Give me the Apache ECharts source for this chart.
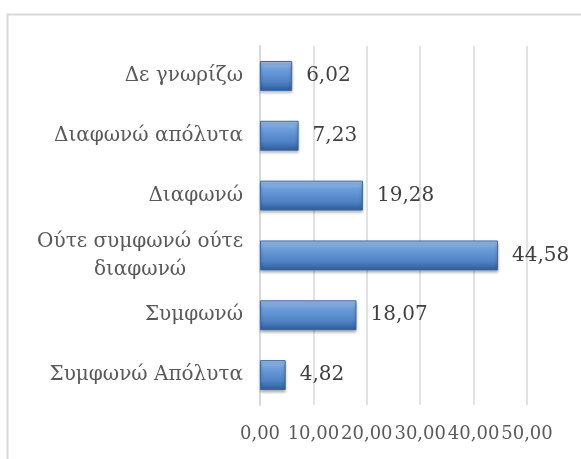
<!DOCTYPE html>
<html>
<head>
<meta charset="utf-8">
<script src="https://cdn.jsdelivr.net/npm/echarts@6/dist/echarts.min.js"></script>
<style>
  html, body { margin: 0; padding: 0; background: #fff; }
  #chart { width: 581px; height: 459px; }
</style>
</head>
<body>
<div id="chart"></div>
<script>
// categories listed bottom to top (category axis on y starts at the bottom)
const categories = [
  "Συμφωνώ Απόλυτα",
  "Συμφωνώ",
  "Ούτε συμφωνώ ούτε\nδιαφωνώ",
  "Διαφωνώ",
  "Διαφωνώ απόλυτα",
  "Δε γνωρίζω",
];
const values = [4.82, 18.07, 44.58, 19.28, 7.23, 6.02];
const xTicks = [0, 10, 20, 30, 40, 50];

const fmt = (v) => Number(v).toFixed(2).replace(".", ",");
const FONT = "DejaVu Serif";

const chart = echarts.init(document.getElementById("chart"));
chart.setOption({
  animation: false,
  graphic: [
    {
      type: "rect",
      shape: { x: 7.5, y: 14.5, width: 620, height: 500 },
      style: { fill: null, stroke: "#d9d9d9", lineWidth: 2 },
      silent: true,
    },
  ],
  grid: { left: 260, right: 54, top: 46, bottom: 54 },
  xAxis: {
    type: "value",
    min: xTicks[0],
    max: xTicks[xTicks.length - 1],
    interval: 10,
    axisLine: { show: false },
    axisTick: { show: false },
    splitLine: { show: true, lineStyle: { color: "#d9d9d9", width: 1.5 } },
    axisLabel: {
      hideOverlap: false,
      showMinLabel: true,
      showMaxLabel: true,
      margin: 20,
      color: "#595959",
      fontFamily: FONT,
      fontSize: 18,
      formatter: fmt,
    },
  },
  yAxis: {
    type: "category",
    data: categories,
    axisLine: { show: true, lineStyle: { color: "#d9d9d9", width: 2 } },
    axisTick: { show: false },
    axisLabel: {
      margin: 17,
      color: "#595959",
      fontFamily: FONT,
      fontSize: 20,
      lineHeight: 28,
      formatter: (v) => v.split("\n").map((s) => "{a|" + s + "}").join("\n"),
      rich: {
        a: { align: "center", fontFamily: FONT, fontSize: 20, lineHeight: 28, color: "#595959" },
      },
    },
  },
  series: [
    {
      type: "bar",
      data: values,
      barCategoryGap: "50%",
      itemStyle: {
        color: new echarts.graphic.LinearGradient(0, 0, 0, 1, [
          { offset: 0, color: "#a9c6ec" },
          { offset: 0.25, color: "#6f9fdc" },
          { offset: 0.7, color: "#4f83c6" },
          { offset: 1, color: "#2e5b98" },
        ]),
        borderColor: "#3a6aa8",
        borderWidth: 1,
        shadowColor: "rgba(0,0,0,0.35)",
        shadowBlur: 3,
        shadowOffsetY: 2,
      },
      label: {
        show: true,
        position: "right",
        distance: 14,
        color: "#404040",
        fontFamily: FONT,
        fontSize: 20,
        formatter: (p) => fmt(p.value),
      },
    },
  ],
});
</script>
</body>
</html>
